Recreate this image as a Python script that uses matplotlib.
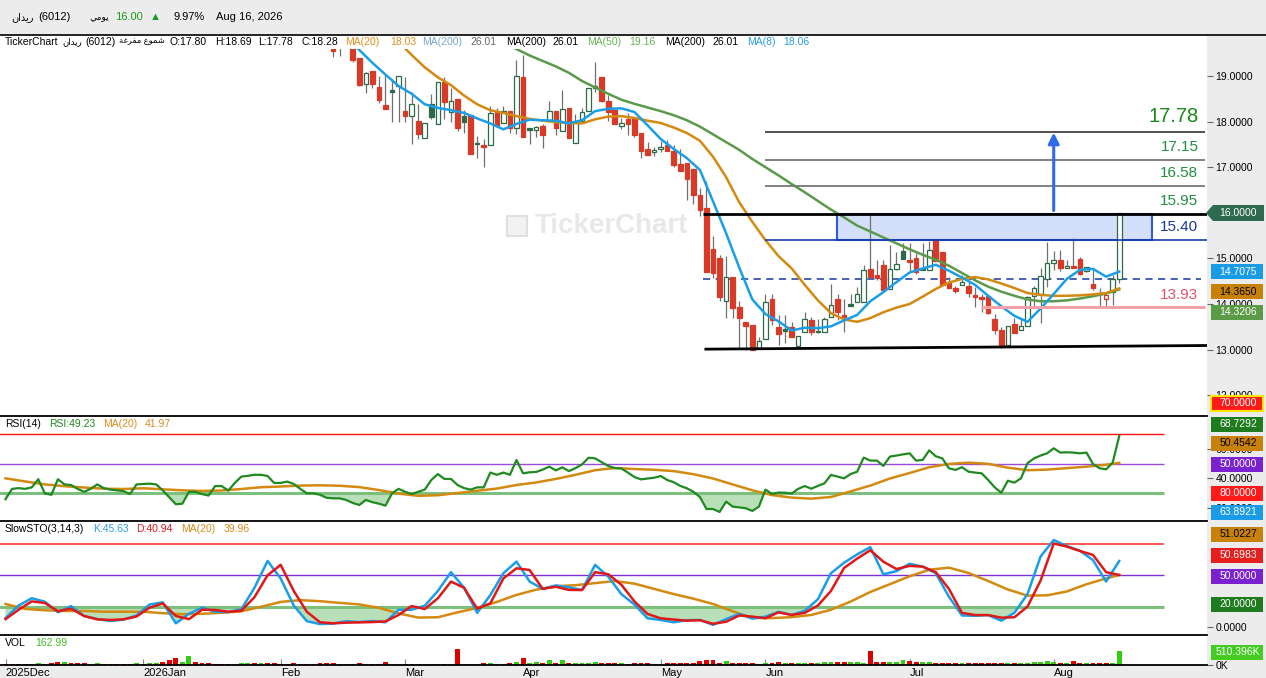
import numpy as np
import matplotlib
matplotlib.use('Agg')
import matplotlib.pyplot as plt
from matplotlib.patches import Rectangle, Polygon

plt.rcParams['font.family'] = ['Liberation Sans', 'DejaVu Sans']

# ---------------- data ----------------
month_bars = [0, 21, 42, 61, 79, 100, 116, 138, 160]
month_labels = ['2025Dec', '2026Jan', 'Feb', 'Mar', 'Apr', 'May', 'Jun', 'Jul', 'Aug']

first_candle = 50
opens = [19.62, 19.66, 19.75, 19.65, 19.39, 18.82, 19.11, 18.76, 18.36, 18.69,
         18.79, 18.24, 18.13, 18.01, 17.63, 18.38, 17.94, 18.86, 18.20, 18.50,
         18.12, 18.14, 17.52, 17.48, 17.48, 18.20, 17.98, 18.24, 17.85, 18.97,
         17.85, 17.81, 17.90, 18.01, 18.23, 17.79, 18.30, 17.52, 18.01, 18.23,
         18.73, 18.97, 18.45, 18.25, 17.90, 18.06, 18.08, 17.75, 17.40, 17.33,
         17.39, 17.48, 17.36, 17.07, 17.09, 16.96, 16.39, 16.11, 15.21, 15.01,
         14.06, 14.59, 13.93, 13.61, 13.54, 13.04, 13.23, 14.11, 13.50, 13.45,
         13.50, 13.09, 13.39, 13.65, 13.40, 13.39, 13.71, 14.11, 13.76, 14.00,
         14.04, 14.05, 14.77, 14.64, 14.86, 14.32, 14.76, 15.16, 14.96, 15.01,
         14.78, 14.74, 15.38, 15.14, 14.46, 14.36, 14.42, 14.39, 14.20, 14.15,
         14.18, 13.67, 13.43, 13.11, 13.56, 13.42, 13.51, 14.18, 14.23, 14.54,
         14.89, 14.96, 14.78, 14.83, 14.98, 14.72, 14.44, 14.24, 14.10, 14.26, 14.55]
highs = [19.65, 19.75, 19.95, 19.70, 19.40, 19.08, 19.12, 19.00, 19.06, 18.93,
         19.00, 18.97, 18.66, 18.39, 17.98, 18.60, 18.86, 18.97, 18.73, 18.50,
         18.26, 18.14, 17.68, 17.62, 18.34, 18.29, 18.34, 18.24, 19.34, 19.45,
         17.85, 17.90, 17.95, 18.45, 18.23, 18.69, 18.30, 18.16, 18.29, 18.73,
         19.31, 18.97, 18.58, 18.25, 18.08, 18.18, 18.08, 17.75, 17.55, 17.45,
         17.58, 17.60, 17.48, 17.40, 17.09, 16.96, 16.54, 16.70, 15.49, 15.07,
         15.05, 14.59, 14.07, 13.61, 13.54, 13.28, 14.21, 14.21, 13.75, 13.75,
         13.60, 13.29, 13.83, 13.72, 13.67, 13.72, 14.44, 14.23, 14.12, 14.21,
         14.38, 14.85, 15.95, 14.96, 14.96, 15.29, 15.15, 15.33, 15.33, 15.12,
         15.33, 15.38, 15.40, 15.14, 14.60, 14.40, 14.64, 14.53, 14.38, 14.23,
         14.18, 13.77, 13.50, 13.52, 13.69, 13.69, 14.17, 14.39, 14.79, 15.37,
         15.16, 15.18, 14.96, 15.44, 15.04, 14.82, 14.78, 14.34, 14.25, 14.64, 16.00]
lows = [19.41, 19.44, 19.65, 19.31, 18.78, 18.63, 18.74, 18.41, 18.28, 18.00,
        18.00, 18.00, 17.50, 17.62, 17.63, 18.05, 17.94, 18.06, 18.00, 17.80,
        17.76, 17.30, 17.20, 17.00, 17.48, 17.91, 17.98, 17.74, 17.73, 17.67,
        17.50, 17.67, 17.43, 18.01, 17.70, 17.79, 17.65, 17.52, 18.01, 18.23,
        18.66, 18.44, 18.02, 17.95, 17.83, 17.71, 17.67, 17.20, 17.27, 17.25,
        17.33, 17.36, 17.00, 16.92, 16.29, 16.20, 15.94, 14.71, 14.58, 14.07,
        13.69, 13.69, 13.03, 12.99, 12.99, 13.04, 13.23, 13.54, 13.10, 13.15,
        13.28, 13.06, 13.39, 13.33, 13.37, 13.39, 13.71, 13.65, 13.39, 13.95,
        14.04, 14.05, 14.59, 14.53, 14.31, 14.32, 14.74, 14.98, 14.71, 14.65,
        14.74, 14.74, 14.94, 14.42, 14.34, 14.25, 14.42, 14.16, 13.94, 13.83,
        13.78, 13.34, 13.04, 13.11, 13.37, 13.42, 13.51, 13.91, 13.58, 14.38,
        14.75, 14.73, 14.78, 14.78, 14.64, 14.70, 14.31, 13.93, 13.93, 13.98, 14.46]
closes = [19.55, 19.70, 19.85, 19.35, 18.81, 19.07, 18.83, 18.47, 18.28, 18.66,
          19.00, 18.13, 18.39, 17.73, 17.98, 18.09, 18.86, 18.44, 18.46, 17.87,
          18.00, 17.30, 17.50, 17.45, 18.18, 17.91, 18.23, 17.85, 19.00, 17.67,
          17.82, 17.89, 17.71, 18.23, 17.85, 18.27, 17.65, 18.01, 18.21, 18.73,
          18.79, 18.46, 18.20, 17.95, 17.98, 17.95, 17.71, 17.36, 17.27, 17.38,
          17.44, 17.36, 17.05, 16.92, 16.75, 16.40, 16.07, 14.71, 14.69, 14.16,
          14.59, 13.92, 13.70, 13.52, 12.99, 13.19, 14.04, 13.66, 13.35, 13.41,
          13.28, 13.29, 13.67, 13.38, 13.39, 13.67, 13.97, 13.83, 13.72, 13.95,
          14.21, 14.75, 14.59, 14.57, 14.31, 14.76, 14.88, 14.98, 14.93, 14.70,
          14.74, 15.18, 14.94, 14.42, 14.34, 14.29, 14.49, 14.25, 14.16, 14.10,
          13.80, 13.43, 13.09, 13.52, 13.37, 13.51, 14.15, 14.34, 14.62, 14.89,
          14.96, 14.78, 14.83, 14.78, 14.66, 14.82, 14.36, 14.21, 14.19, 14.55, 16.00]

ma8_start = 52
ma8 = [19.85, 19.57, 19.29, 19.03, 18.78, 18.61, 18.38, 18.30, 18.25, 18.19,
       18.07, 17.96, 17.83, 17.95, 18.04, 18.03, 18.02, 17.96, 18.03, 18.23,
       18.28, 18.29, 18.21, 17.92, 17.62, 17.40, 17.20, 16.94, 16.25, 15.55,
       14.80, 14.10, 13.78, 13.62, 13.42, 13.48, 13.47, 13.51, 13.64, 13.76,
       14.06, 14.26, 14.48, 14.69, 14.78, 14.86, 14.73, 14.58, 14.42, 14.18,
       13.95, 13.74, 13.61, 13.90, 14.22, 14.55, 14.75, 14.77, 14.60, 14.71]
ma20_start = 60
ma20 = [19.75, 19.46, 19.19, 18.97, 18.80, 18.57, 18.38, 18.25, 18.19, 18.12,
        18.06, 18.02, 17.99, 17.97, 17.96, 18.05, 18.11, 18.12, 18.08, 18.02,
        17.97, 17.87, 17.75, 17.58, 17.23, 16.78, 16.23, 15.80, 15.40, 15.05,
        14.78, 14.42, 14.08, 13.80, 13.66, 13.61, 13.69, 13.82, 13.92, 14.00,
        14.16, 14.33, 14.47, 14.55, 14.59, 14.54, 14.45, 14.35, 14.24, 14.20,
        14.18, 14.18, 14.19, 14.21, 14.24, 14.34]
ma50_start = 76
ma50 = [19.72, 19.59, 19.45, 19.33, 19.21, 19.07, 18.89, 18.75, 18.61, 18.48,
        18.39, 18.31, 18.23, 18.14, 18.03, 17.89, 17.72, 17.55, 17.38, 17.18,
        17.00, 16.82, 16.63, 16.45, 16.26, 16.07, 15.90, 15.72, 15.59, 15.46,
        15.33, 15.20, 15.08, 14.97, 14.84, 14.68, 14.52, 14.38, 14.27, 14.18,
        14.10, 14.06, 14.06, 14.08, 14.12, 14.17, 14.23, 14.32]

rsi = [26, 33, 33.5, 33, 34, 39.5, 30, 29, 39.5, 36,
       35.6, 33, 31, 33, 36, 33.5, 32.5, 32, 31.5, 29.5,
       36, 36.3, 36.5, 36, 32, 27.3, 22.6, 23, 31, 31,
       29.5, 28.5, 34.9, 34.9, 31.8, 37, 41.3, 41.8, 42.5, 42.5,
       41.7, 37, 37, 37.9, 36.3, 33, 30, 30, 29, 27,
       26.6, 26.6, 25.5, 23.5, 22.1, 25.5, 24, 23, 21.7, 30,
       33, 31, 29.5, 31, 32.5, 39, 43, 39.7, 39.7, 35.6,
       33.5, 32.5, 34, 34, 44, 42.5, 44, 42.5, 52.5, 43.5,
       44.2, 44.4, 46, 48, 45.5, 47.5, 45, 47, 49.5, 54,
       53.6, 51, 48.5, 47, 46.8, 44, 41, 39.4, 40, 40.5,
       41.7, 39, 37.5, 35, 33.4, 31, 27.5, 19.4, 19.4, 17.4,
       24.4, 21, 20.5, 19.9, 18.1, 21, 32.5, 29.5, 30.5, 30.4,
       29.8, 33, 34.9, 33.1, 35, 36.7, 42.4, 41.3, 40.1, 43,
       44.6, 54.1, 52.1, 52.1, 48.5, 54.8, 55.5, 56.3, 57, 52.1,
       52.5, 59, 55, 53.6, 46.9, 45.8, 47.6, 44.6, 44, 43.5,
       39, 34, 30.4, 38.5, 37.2, 40.1, 50.3, 53.6, 55.5, 57,
       60.4, 57.5, 57.7, 57.5, 57, 57.5, 49.8, 46.9, 46.2, 50.7,
       68.7]

# moving averages of the oscillators, read every 3rd bar (plus the last bar)
ma_step = 3
rsi_ma = [40.1, 38.0, 36.0, 34.8, 33.9, 33.1, 32.9, 33.4, 32.7, 32.0,
          31.6, 31.9, 32.9, 34.1, 34.6, 35.2, 35.4, 35.1, 34.2, 32.2,
          29.8, 28.3, 28.7, 30.2, 31.7, 33.2, 35.6, 37.3, 39.7, 42.5,
          45.6, 47.1, 46.4, 45.9, 45.0, 42.9, 40.0, 36.0, 32.0, 28.8,
          27.1, 26.4, 27.5, 31.3, 35.2, 40.0, 43.7, 47.6, 49.8, 50.7,
          49.9, 47.3, 45.6, 46.0, 47.0, 48.0, 49.3, 50.5]

# slow stochastic, read every 2nd bar
sto_step = 2
sto_k = [9, 21, 28, 24.7, 14.6, 20.5, 11, 8.1, 6.2, 7.5,
         11.5, 22, 24.1, 4, 13, 19, 15.1, 14.8, 17.5, 38,
         63.7, 47, 21, 6, 3.3, 3.7, 6, 5.2, 6.2, 5,
         17, 17, 20.9, 35, 53, 38, 14, 31, 52, 63.1,
         44, 37, 40.3, 38.5, 35.9, 60, 48.7, 32, 22, 8.8,
         7.2, 5, 7, 7.2, 2.5, 8, 13, 8.5, 10.4, 15,
         12, 16, 27, 52, 62, 70, 77, 50.9, 54, 61,
         58.3, 52, 29.5, 11.5, 11.2, 11.8, 6.5, 14, 32, 68,
         83.8, 78, 73.5, 64.5, 44, 63.7]
sto_d = [8, 17, 25, 23.5, 15.5, 18, 11, 7.8, 7.2, 7.8,
         10.5, 19, 23, 11, 8, 17, 16.8, 15.1, 16, 29,
         50, 60, 35, 15, 5, 4, 4.6, 4.9, 5.2, 5.8,
         12, 20.5, 17.7, 28, 44, 38, 18, 23.1, 47, 56.7,
         55.1, 37, 39, 36, 35.9, 53, 51, 41, 25, 13,
         8.8, 7.6, 6.5, 7, 3.5, 5.5, 11.5, 10.4, 8.8, 14.5,
         12, 14, 21, 35, 57, 66, 74, 63, 56, 59,
         58.3, 53, 37, 14, 11.9, 11.9, 9.4, 9.8, 20, 45,
         80.5, 77.5, 73.3, 69.5, 53, 50.3]
sto_ma = [22.5, 17.8, 16.5, 15.8, 15.8, 15.1, 15.1, 15.1, 13.7, 12.7,
          13.1, 14.1, 15.5, 19.8, 24.5, 26.2, 25.2, 23.6, 22.1, 18.8,
          13.5, 9.5, 9.8, 14.5, 18.7, 24.5, 31.2, 36.2, 39.5, 40.5,
          42.5, 44.5, 42.0, 37.0, 32.0, 27.6, 22.5, 15.5, 9.3, 9.0,
          9.9, 12.0, 17.0, 24.8, 34.0, 41.5, 49.0, 55.3, 57.3, 52.2,
          44.5, 36.4, 30.5, 30.8, 34.5, 41.4, 47.0, 50.3]

# volume in thousands
volume = [40, 40, 40, 45, 45, 80, 50, 80, 120, 120,
          85, 85, 85, 50, 85, 40, 45, 45, 45, 50,
          85, 40, 60, 85, 130, 170, 260, 130, 350, 130,
          90, 60, 45, 45, 45, 50, 80, 80, 60, 85,
          85, 85, 45, 50, 85, 45, 45, 45, 85, 85,
          85, 40, 45, 40, 85, 45, 45, 50, 130, 40,
          45, 45, 45, 45, 40, 45, 45, 50, 45, 585,
          45, 45, 45, 60, 90, 45, 45, 85, 130, 260,
          90, 130, 90, 195, 90, 195, 90, 60, 60, 85,
          130, 85, 85, 60, 60, 40, 85, 85, 60, 40,
          45, 85, 90, 60, 85, 60, 150, 195, 190, 90,
          150, 85, 85, 85, 85, 45, 90, 90, 130, 85,
          60, 60, 60, 85, 90, 130, 130, 120, 130, 130,
          110, 85, 520, 110, 120, 130, 110, 175, 150, 120,
          130, 130, 85, 85, 60, 60, 85, 85, 85, 85,
          85, 60, 60, 60, 60, 85, 90, 110, 130, 150,
          110, 60, 90, 150, 85, 60, 90, 90, 60, 90,
          510]
early_vol_dir = "rrrrggrrrg" "rrrggrrrrr" "grggrrrggr" "rrrrrgggrg" "rrrrrrrrrr"

levels = [17.78, 17.15, 16.58]
resist = 15.97
zone_low = 15.40
stop_level = 13.93
last_close_prev = 14.54
support = (13.01, 13.09)

# ---------------- layout helpers ----------------
W, H = 1266, 678
PLOT_R = 1207


def fx(px):
    return px / W


def fy(py):
    return 1 - py / H


def panel(top, bottom):
    return [0, fy(bottom), fx(PLOT_R), (bottom - top) / H]


GREEN_C = '#2b6b48'
RED_C = '#d83a27'
WICK = '#707070'
BLUE = '#1a9ee8'
ORANGE = '#d4890f'
MGREEN = '#5b9a4a'
XLIM = (-0.84, 183.4)

fig = plt.figure(figsize=(W / 100, H / 100), dpi=100, facecolor='#ececec')

ax_p = fig.add_axes(panel(49, 416))
ax_r = fig.add_axes(panel(416, 521))
ax_s = fig.add_axes(panel(521, 635))
ax_v = fig.add_axes(panel(635, 665))

for ax in (ax_p, ax_r, ax_s, ax_v):
    ax.set_facecolor('white')
    ax.set_xlim(*XLIM)
    for sp in ax.spines.values():
        sp.set_visible(False)
    ax.tick_params(axis='y', left=False, labelleft=False, right=True, labelright=True,
                   length=4, width=0.8, color='#666', pad=2, labelsize=7.5)
    ax.tick_params(axis='x', bottom=False, labelbottom=False)
for ax in (ax_r, ax_s, ax_v):
    ax.spines['top'].set_visible(True)
    ax.spines['top'].set_color('black')
    ax.spines['top'].set_linewidth(1.3)
ax_v.spines['bottom'].set_visible(True)
ax_v.spines['bottom'].set_linewidth(1.3)

# white strip for the info line and header separator
fig.add_artist(Rectangle((0, fy(49)), fx(PLOT_R), 14 / H, transform=fig.transFigure,
                         facecolor='white', edgecolor='none', zorder=0))
fig.add_artist(plt.Line2D([0, 1], [fy(34.5), fy(34.5)], transform=fig.transFigure,
                          color='black', lw=1.2))

# ---------------- price panel ----------------
ax_p.set_ylim(11.544, 19.592)
price_ticks = [12, 13, 14, 15, 17, 18, 19]
ax_p.set_yticks(price_ticks)
ax_p.set_yticklabels(['%.4f' % v for v in price_ticks])

n = len(closes)
cbars = np.arange(first_candle, first_candle + n)
candle_up = []
for i in range(n):
    o, h, l, c = opens[i], highs[i], lows[i], closes[i]
    prev = closes[i - 1] if i > 0 else o
    up = c >= prev
    candle_up.append(up)
    col = GREEN_C if up else RED_C
    ax_p.vlines(cbars[i], l, h, color=WICK, lw=0.9, zorder=2)
    lo, hi = min(o, c), max(o, c)
    face = 'white' if c > o else col
    ax_p.add_patch(Rectangle((cbars[i] - 0.35, lo), 0.7, max(hi - lo, 0.025),
                             facecolor=face, edgecolor=col, lw=0.9, zorder=3))

ax_p.plot(ma50_start + 2 * np.arange(len(ma50)), ma50, color=MGREEN, lw=1.8, zorder=4)
ax_p.plot(ma20_start + 2 * np.arange(len(ma20)), ma20, color=ORANGE, lw=1.8, zorder=4)
ax_p.plot(ma8_start + 2 * np.arange(len(ma8)), ma8, color=BLUE, lw=1.8, zorder=4)

# drawings
lvl_x0, lvl_x1 = 115.9, 183.1
for lv, c in zip(levels, ['#444444', '#777777', '#777777']):
    ax_p.hlines(lv, lvl_x0, lvl_x1, color=c, lw=1.3, zorder=5)
ax_p.add_patch(Rectangle((126.9, zone_low), 175 - 126.9, resist - zone_low,
                         facecolor='#d4e0fb', edgecolor='#2a5ae6', lw=1.5, zorder=1))
ax_p.hlines(zone_low, lvl_x0, 183.4, color='#1a3aaa', lw=1.2, zorder=5)
ax_p.hlines(resist, 106.5, 183.4, color='black', lw=2.0, zorder=5)
ax_p.plot([106.9, 183.4], support, color='black', lw=2.0, zorder=5)
ax_p.hlines(stop_level, 148.9, 183.1, color='#f4a0a8', lw=2.2, zorder=5)
ax_p.hlines(last_close_prev, 106.5, 182.5, color='#3a55a8', lw=1.3,
            linestyles=(0, (4, 3)), zorder=1.5)
ax_p.annotate('', xy=(160, 17.76), xytext=(160, 16.05),
              arrowprops=dict(arrowstyle='-|>', color='#2f6ae8', lw=2.2,
                              mutation_scale=16, shrinkA=0, shrinkB=0), zorder=6)

lab_x = 182.1
ax_p.text(lab_x, 18.12, '17.78', color='#1a8a1a', fontsize=14.5, ha='right', va='center', zorder=6)
ax_p.text(lab_x, 17.44, '17.15', color='#1f8f3f', fontsize=11, ha='right', va='center', zorder=6)
ax_p.text(lab_x, 16.87, '16.58', color='#1f8f3f', fontsize=11, ha='right', va='center', zorder=6)
ax_p.text(lab_x, 16.26, '15.95', color='#1f8f3f', fontsize=11, ha='right', va='center', zorder=6)
ax_p.text(lab_x, 15.69, '15.40', color='#1a3a9a', fontsize=11, ha='right', va='center', zorder=6)
ax_p.text(lab_x, 14.20, '13.93', color='#e8506a', fontsize=11, ha='right', va='center', zorder=6)


# watermark
def pax(px, py):
    return px / PLOT_R, 1 - (py - 49) / (416 - 49)


ax_p.add_patch(Rectangle(pax(507, 236), 20 / PLOT_R, 20 / 367, transform=ax_p.transAxes,
                         facecolor='#f2f2f2', edgecolor='#e0e0e0', lw=1.5, zorder=0.5))
ax_p.text(*pax(535, 226), 'TickerChart', transform=ax_p.transAxes, fontsize=20,
          fontweight='bold', color='#e8e8e8', ha='left', va='center', zorder=0.5)

# ---------------- RSI panel ----------------
ax_r.set_ylim(11.3, 82.2)
ax_r.set_yticks([20, 40, 60])
ax_r.set_yticklabels(['20.0000', '40.0000', '60.0000'])
rb = np.arange(len(rsi))
rsi_a = np.array(rsi)
osc_ma_x = list(range(0, ma_step * (len(rsi_ma) - 1), ma_step)) + [len(rsi) - 1]
ax_r.hlines(70, -1, 176.9, color='#ff1010', lw=1.0, zorder=2)
ax_r.hlines(50, -1, 176.9, color='#9a4ae0', lw=1.0, zorder=2)
ax_r.hlines(30, -1, 176.9, color='#7dbf7d', lw=2.2, zorder=2)
ax_r.fill_between(rb, rsi_a, 30, where=rsi_a < 30, interpolate=True,
                  color='#b9dfb9', lw=0, zorder=1)
ax_r.plot(osc_ma_x, rsi_ma, color=ORANGE, lw=1.8, zorder=3)
ax_r.plot(rb, rsi_a, color='#1f8a1f', lw=1.6, zorder=4)

# ---------------- Slow STO panel ----------------
ax_s.set_ylim(-7.2, 102.0)
ax_s.set_yticks([0])
ax_s.set_yticklabels(['0.0000'])
sb = sto_step * np.arange(len(sto_k))
k_a = np.array(sto_k)
ax_s.hlines(80, -1, 176.9, color='#ff3b3b', lw=1.2, zorder=2)
ax_s.hlines(50, -1, 176.9, color='#7b2fd6', lw=1.0, zorder=2)
ax_s.hlines(20, -1, 176.9, color='#7dbf7d', lw=2.2, zorder=2)
ax_s.fill_between(sb, k_a, 20, where=k_a < 20, interpolate=True,
                  color='#b9dfb9', lw=0, zorder=1)
ax_s.plot(osc_ma_x, sto_ma, color=ORANGE, lw=1.8, zorder=3)
ax_s.plot(sb, k_a, color=BLUE, lw=1.8, zorder=4)
ax_s.plot(sb, sto_d, color='#e01818', lw=1.8, zorder=5)

# ---------------- Volume panel ----------------
ax_v.set_ylim(0, 1131)
ax_v.set_yticks([0])
ax_v.set_yticklabels(['0K'])
vb = np.arange(len(volume))
vcols = []
for i in vb:
    if i < first_candle:
        vcols.append('#33cc11' if early_vol_dir[i] == 'g' else '#dd0000')
    else:
        vcols.append('#33cc11' if candle_up[i - first_candle] else '#dd0000')
ax_v.bar(vb, volume, width=0.75, color=vcols, zorder=2)
ax_v.set_xticks(month_bars)
ax_v.set_xticklabels(month_labels, ha='left')
ax_v.tick_params(axis='x', bottom=True, labelbottom=True, direction='in', length=4,
                 color='#888', pad=2, labelsize=8)


# ---------------- texts ----------------
def ftext(px, py, s, color='black', size=7.5, **kw):
    fig.text(fx(px), fy(py), s, color=color, fontsize=size, va='center', ha='left', **kw)


ridan = '\uFEE5\uFE8D\uFEAA\uFEF3\uFEAD'
yawmi = '\uFEF2\uFEE3\uFEEE\uFEF3'
hollow = '\uFE94\uFECF\uFEAE\uFED4\uFEE3 \uFEC9\uFEEE\uFEE4\uFEB7'

ftext(11, 17, ridan, size=7)
ftext(38, 17, '(6012)', size=8)
ftext(89, 17, yawmi, size=6.5)
ftext(115, 17, '16.00', color='#1a9a1a', size=8)
ftext(150, 17, '\u25B2', color='#1a9a2a', size=8)
ftext(173, 17, '9.97%', size=8)
ftext(216, 17, 'Aug 16, 2026', size=8)

ftext(5, 42, 'TickerChart')
ftext(62, 42, ridan, size=6.2)
ftext(85, 42, '(6012)')
ftext(119, 42, hollow, size=6.0)
info = [(170, 'O:17.80', 'black'), (215, 'H:18.69', 'black'),
        (258, 'L:17.78', 'black'), (302, 'C:18.28', 'black'), (345, 'MA(20)', '#e0901a'),
        (390, '18.03', '#e0901a'), (422, 'MA(200)', '#7aa6cc'), (470, '26.01', '#666666'),
        (506, 'MA(200)', 'black'), (552, '26.01', 'black'), (587, 'MA(50)', '#66b055'),
        (629, '19.16', '#66b055'), (665, 'MA(200)', 'black'), (712, '26.01', 'black'),
        (747, 'MA(8)', '#2a9be8'), (783, '18.06', '#2a9be8')]
for px, s, c in info:
    ftext(px, 42, s, color=c)

for px, s, c in [(5, 'RSI(14)', 'black'), (49, 'RSI:49.23', '#1a8a1a'),
                 (103, 'MA(20)', '#d98c1a'), (145, '41.97', '#d98c1a')]:
    ftext(px, 424, s, color=c)
for px, s, c in [(5, 'SlowSTO(3,14,3)', 'black'), (93, 'K:45.63', '#2a9be8'),
                 (136, 'D:40.94', '#e01818'), (181, 'MA(20)', '#d98c1a'), (224, '39.96', '#d98c1a')]:
    ftext(px, 529, s, color=c)
for px, s, c in [(5, 'VOL', 'black'), (35, '162.99', '#44bb22')]:
    ftext(px, 643, s, color=c)


# ---------------- value boxes on the axis column ----------------
def vbox(py, s, bg, fg, edge=None, arrow=False):
    x0, x1, hh = 1211, 1263, 7.5
    if arrow:
        pts = [(1206, py), (1213, py - 8), (1264, py - 8), (1264, py + 8), (1213, py + 8)]
        fig.add_artist(Polygon([(fx(a), fy(b)) for a, b in pts], closed=True,
                               transform=fig.transFigure, facecolor=bg, edgecolor='none', zorder=5))
    else:
        fig.add_artist(Rectangle((fx(x0), fy(py + hh)), (x1 - x0) / W, 2 * hh / H,
                                 transform=fig.transFigure, facecolor=bg,
                                 edgecolor=edge if edge else 'none', lw=1.5, zorder=5))
    fig.text(fx((x0 + x1) / 2 + 1), fy(py), s, color=fg, fontsize=7.5,
             ha='center', va='center', zorder=6)


vbox(213, '16.0000', '#2d6b4f', 'white', arrow=True)
vbox(272, '14.7075', '#1a9be6', 'white')
vbox(292, '14.3650', '#c8820a', 'black')
vbox(312, '14.3206', '#5b9a46', 'white')
vbox(403, '70.0000', '#ff1a1a', 'white', edge='#ffe600')
vbox(424, '68.7292', '#1e7b1e', 'white')
vbox(443, '50.4542', '#c8820a', 'black')
vbox(464, '50.0000', '#7a22d0', 'white')
vbox(493, '80.0000', '#ff1a1a', 'white')
vbox(512, '63.8921', '#1a9be6', 'white')
vbox(534, '51.0227', '#c8820a', 'black')
vbox(555, '50.6983', '#e61e1e', 'white')
vbox(576, '50.0000', '#7a22d0', 'white')
vbox(604, '20.0000', '#1e7b1e', 'white')
vbox(652, '510.396K', '#44cc22', 'white')

fig.savefig('out.png', dpi=100, facecolor=fig.get_facecolor())
